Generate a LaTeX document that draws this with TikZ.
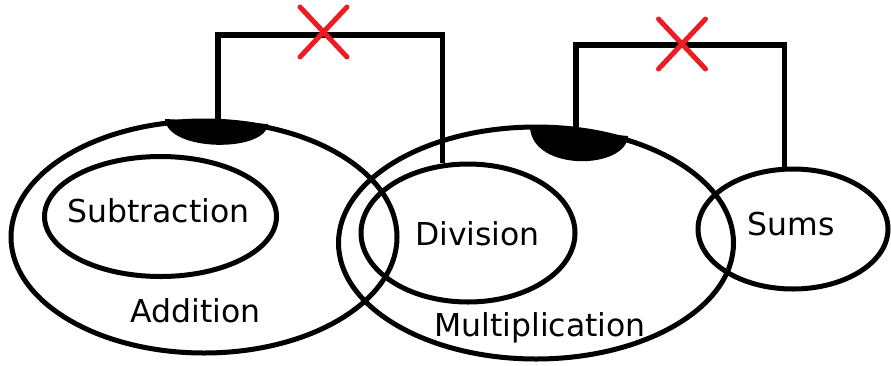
\documentclass[tikz,border=0pt]{standalone}
\usepackage{fontspec}
\setmainfont{DejaVu Sans}
\usepackage{xcolor}
\usetikzlibrary{shapes,positioning,calc}
\definecolor{crossred}{RGB}{237,28,36}

\tikzset{
    ring/.style={draw, ellipse, line width=5pt, inner sep=0pt},
    wire/.style={draw, line width=5.5pt},
    cutmark/.style={cross out, draw=crossred, line width=5pt, line cap=round, minimum width=42pt, minimum height=45pt, inner sep=0pt},
    lbl/.style={anchor=base, inner sep=0pt, font=\fontsize{31.5}{36}\selectfont}
}

\begin{document}
\begin{tikzpicture}[x=1pt,y=-1pt]
    \useasboundingbox (0,0) rectangle (891,365);

    % sets
    \node[ring, minimum width=386pt, minimum height=232pt] (addition) at (204,237) {};
    \node[ring, minimum width=232pt, minimum height=120pt] (subtraction) at (160.5,216.5) {};
    \node[ring, minimum width=395pt, minimum height=232pt] (multiplication) at (536,243) {};
    \node[ring, minimum width=214pt, minimum height=138pt] (division) at (468,233) {};
    \node[ring, minimum width=190pt, minimum height=120pt] (sums) at (793,229) {};

    % hubs on top of the big sets
    \fill (165,119) .. controls (167,152) and (266,153) .. (268,124) -- cycle;
    \fill (530,127) .. controls (532,172) and (626,170) .. (628,136) -- cycle;
    \coordinate (hubA) at (218,121);
    \coordinate (hubB) at (576,133);

    % links, both cut
    \coordinate (cutA) at (323,35);
    \coordinate (cutB) at (682,45);
    \draw[wire] (hubA) |- (cutA) -| (division.110);
    \draw[wire] (hubB) |- (cutB) -| (sums.98);
    \node[cutmark] (crossA) at (323.5,32) {};
    \node[cutmark] (crossB) at (682,44) {};

    % labels
    \node[lbl] (subLabel) at (158.5,222) {Subtraction};
    \node[lbl] (addLabel) at (195.5,322) {Addition};
    \node[lbl] (divLabel) at (477.5,245) {Division};
    \node[lbl] (mulLabel) at (540,336) {Multiplication};
    \node[lbl] (sumLabel) at (791.5,235) {Sums};
\end{tikzpicture}
\end{document}
